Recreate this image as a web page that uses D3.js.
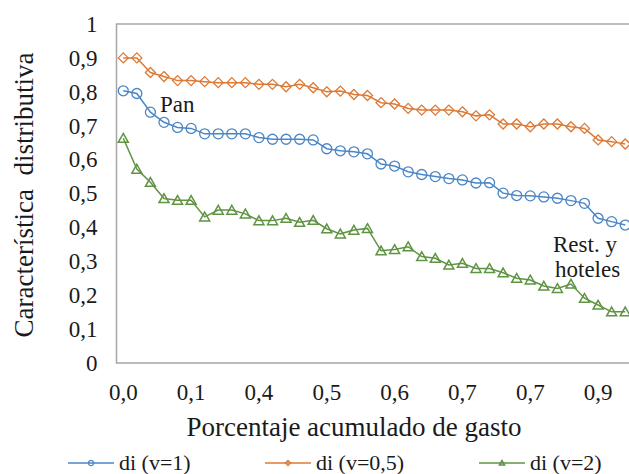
<!DOCTYPE html>
<html>
<head>
<meta charset="utf-8">
<script src="https://cdn.jsdelivr.net/npm/d3@7"></script>
<style>
  body { margin: 0; background: #fff; overflow: hidden; }
  svg text { font-family: "Liberation Serif", "DejaVu Serif", "Times New Roman", serif !important; }
</style>
</head>
<body>
<svg id="chart" width="629" height="474"></svg>
<script>
// series values (38 categories each)
const di_v1 = [0.803, 0.795, 0.740, 0.710, 0.695, 0.692, 0.676, 0.676, 0.676, 0.676,
               0.665, 0.660, 0.660, 0.660, 0.658, 0.632, 0.626, 0.623, 0.617, 0.587,
               0.581, 0.564, 0.556, 0.550, 0.544, 0.540, 0.531, 0.532, 0.501, 0.494,
               0.493, 0.490, 0.486, 0.479, 0.471, 0.427, 0.417, 0.407];
const di_v05 = [0.900, 0.900, 0.857, 0.845, 0.833, 0.833, 0.830, 0.827, 0.827, 0.827,
                0.822, 0.822, 0.815, 0.822, 0.812, 0.800, 0.802, 0.792, 0.789, 0.768,
                0.764, 0.751, 0.746, 0.746, 0.746, 0.741, 0.729, 0.732, 0.705, 0.705,
                0.697, 0.705, 0.705, 0.697, 0.692, 0.658, 0.653, 0.646];
const di_v2 = [0.663, 0.572, 0.533, 0.485, 0.480, 0.480, 0.431, 0.451, 0.451, 0.440,
               0.420, 0.420, 0.427, 0.415, 0.421, 0.396, 0.381, 0.392, 0.397, 0.331,
               0.335, 0.343, 0.314, 0.309, 0.289, 0.294, 0.279, 0.279, 0.266, 0.250,
               0.245, 0.227, 0.220, 0.233, 0.191, 0.171, 0.151, 0.151];

// category labels shown on the x axis (every 5th category)
const xTickLabels = ["0,0", "0,1", "0,4", "0,5", "0,6", "0,7", "0,7", "0,9"];
const yTicks = [0, 0.1, 0.2, 0.3, 0.4, 0.5, 0.6, 0.7, 0.8, 0.9, 1];

const seriesNames = ["di (v=1)", "di (v=0,5)", "di (v=2)"];
const seriesColors = ["#4a86c6", "#dc7935", "#5f9443"];
const seriesShapes = ["circle", "diamond", "triangle"];
const seriesData = [di_v1, di_v05, di_v2];

const svg = d3.select("#chart");
const plotLeft = 116.5, plotTop = 24, plotBottom = 363, plotRight = 632;

const x = d3.scaleBand()
  .domain(d3.range(di_v1.length))
  .range([plotLeft, plotRight]);
const cx = i => x(i) + x.bandwidth() / 2;

const y = d3.scaleLinear().domain([0, 1]).range([plotBottom, plotTop]);

// plot frame
svg.append("rect")
  .attr("x", plotLeft).attr("y", plotTop)
  .attr("width", plotRight - plotLeft).attr("height", plotBottom - plotTop)
  .attr("fill", "none").attr("stroke", "#a6a6a6").attr("stroke-width", 1.5);

// y axis
const yAxis = d3.axisLeft(y)
  .tickValues(yTicks)
  .tickSize(0).tickPadding(19)
  .tickFormat(d => d === 0 ? "0" : d === 1 ? "1" : d3.format(".1f")(d).replace(".", ","));
const gy = svg.append("g").attr("transform", `translate(${plotLeft},0)`).call(yAxis);
gy.select(".domain").remove();
gy.attr("font-family", null);
gy.selectAll("text").attr("font-size", 23).attr("fill", "#1a1a1a");

// x axis
const xAxis = d3.axisBottom(x)
  .tickValues(d3.range(0, di_v1.length, 5))
  .tickSize(0).tickPadding(21)
  .tickFormat(i => xTickLabels[i / 5]);
const gx = svg.append("g").attr("transform", `translate(0,${plotBottom})`).call(xAxis);
gx.select(".domain").remove();
gx.attr("font-family", null);
gx.selectAll("text").attr("font-size", 23).attr("fill", "#1a1a1a");

// axis titles
svg.append("text")
  .attr("transform", "translate(33,195) rotate(-90)")
  .attr("text-anchor", "middle")
  .attr("font-size", 27).attr("fill", "#1a1a1a")
  .attr("xml:space", "preserve")
  .text("Característica  distributiva");

svg.append("text")
  .attr("x", 354).attr("y", 436)
  .attr("text-anchor", "middle")
  .attr("font-size", 27).attr("fill", "#1a1a1a")
  .text("Porcentaje acumulado de gasto");

// marker shapes
function marker(g, shape, color, s) {
  if (shape === "circle") {
    g.append("circle").attr("r", s).attr("fill", "none")
      .attr("stroke", color).attr("stroke-width", 1.3);
  } else if (shape === "diamond") {
    g.append("path").attr("d", `M0,${-s}L${s},0L0,${s}L${-s},0Z`)
      .attr("fill", "none").attr("stroke", color).attr("stroke-width", 1.3);
  } else {
    const h = s * 0.95;
    g.append("path").attr("d", `M0,${-h}L${s},${h * 0.85}L${-s},${h * 0.85}Z`)
      .attr("fill", "none").attr("stroke", color).attr("stroke-width", 1.5);
  }
}

const line = d3.line().x((d, i) => cx(i)).y(d => y(d));

seriesData.forEach((vals, k) => {
  const g = svg.append("g");
  g.append("path")
    .datum(vals)
    .attr("d", line)
    .attr("fill", "none")
    .attr("stroke", seriesColors[k])
    .attr("stroke-width", 1.5);
  g.selectAll(".pt")
    .data(vals)
    .enter()
    .append("g")
    .attr("class", "pt")
    .attr("transform", (d, i) => `translate(${cx(i)},${y(d)})`)
    .each(function () { marker(d3.select(this), seriesShapes[k], seriesColors[k], 5); });
});

// annotations
const notes = svg.append("g").attr("font-size", 23).attr("fill", "#1a1a1a");
notes.append("text").attr("x", 160).attr("y", 112).text("Pan");
notes.append("text").attr("x", 553).attr("y", 252).text("Rest. y");
notes.append("text").attr("x", 555).attr("y", 277).text("hoteles");

// legend
const legendX = [68, 265, 479];
const legend = svg.append("g");
seriesNames.forEach((name, k) => {
  const lg = legend.append("g").attr("transform", `translate(${legendX[k]},463)`);
  lg.append("line").attr("x1", 0).attr("x2", 46)
    .attr("stroke", seriesColors[k]).attr("stroke-width", 1.5);
  const m = lg.append("g").attr("transform", "translate(23,0)");
  marker(m, seriesShapes[k], seriesColors[k], 2.6);
  lg.append("text").attr("x", 51).attr("dy", "0.33em")
    .attr("font-size", 22).attr("fill", "#1a1a1a").text(name);
});
</script>
</body>
</html>
